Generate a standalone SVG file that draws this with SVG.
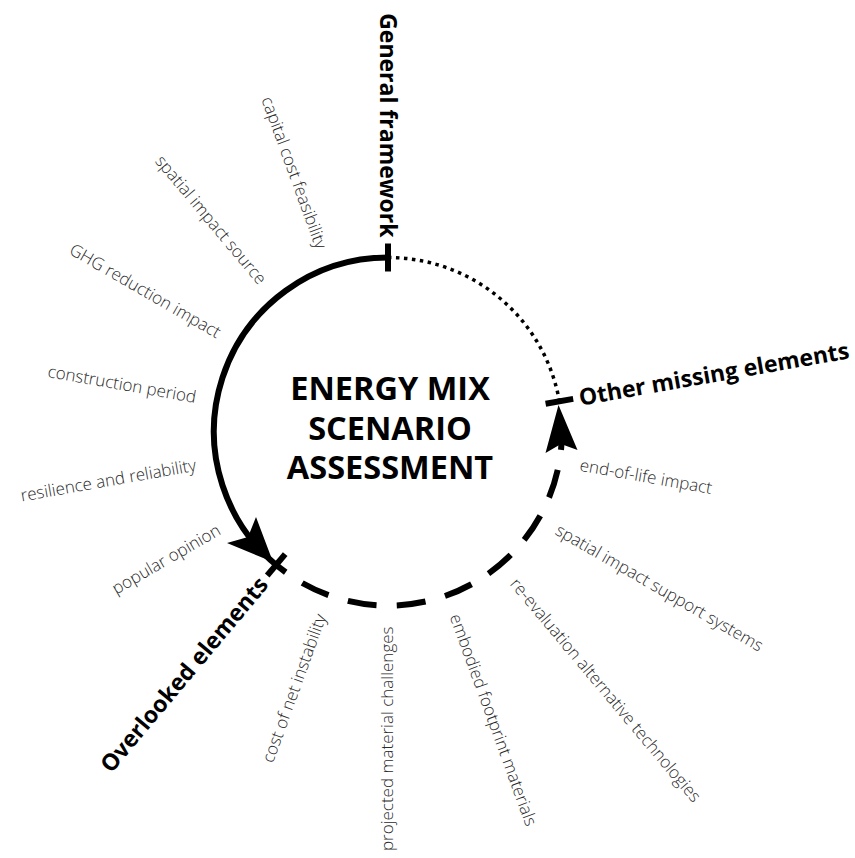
<svg xmlns="http://www.w3.org/2000/svg" width="855" height="858" viewBox="0 0 855 858">
<style>
.lbl{font-family:"Open Sans","Noto Sans",sans-serif;font-weight:300;font-size:17px;fill:#2a2a2a}
.bold{font-family:"Open Sans","Noto Sans",sans-serif;font-weight:700;font-size:23px;fill:#000}
.title{font-family:"Open Sans","Noto Sans",sans-serif;font-weight:700;font-size:32.5px;fill:#000;text-anchor:middle}
.arc{fill:none;stroke:#000;stroke-width:6}
.tick{stroke:#000;stroke-width:6;fill:none}
</style>
<rect width="855" height="858" fill="#fff"/>
<g id="connectors">
  <path class="arc" d="M388 257.5 A174 174 0 0 0 285.7 572.3"/>
  <path class="arc" d="M388 257.5 A174 174 0 0 1 559.4 401.3" style="stroke-width:3.5" stroke-dasharray="3.5 4.5"/>
  <path class="arc" d="M302.2 583.0 A174 174 0 0 0 561.3 416.3" stroke-dasharray="29 20.2"/>
  <polygon points="273,562 227,543 248,537 256,517" fill="#000"/>
  <polygon points="558.5,405 545.5,453 561,444 577.5,450" fill="#000"/>
  <line class="tick" x1="388" y1="243.5" x2="388" y2="271.5"/>
  <line class="tick" x1="545.6" y1="403.7" x2="573.2" y2="398.9"/>
  <line class="tick" x1="267.2" y1="575.5" x2="285.2" y2="554.1"/>
</g>
<g id="center">
  <text class="title" x="390" y="400">ENERGY MIX<tspan x="390" y="440">SCENARIO</tspan><tspan x="390" y="479">ASSESSMENT</tspan></text>
</g>
<g id="general-framework">
  <text class="bold" transform="rotate(90 388 431.5)" x="194" y="431.5" dy="0.35em" text-anchor="end">General framework</text>
</g>
<g id="other-missing-elements">
  <text class="bold" transform="rotate(-10 388 431.5)" x="582" y="431.5" dy="0.35em" text-anchor="start">Other missing elements</text>
</g>
<g id="overlooked-elements">
  <text class="bold" transform="rotate(-50 388 431.5)" x="194" y="431.5" dy="0.35em" text-anchor="end">Overlooked elements</text>
</g>
<g id="labels">
  <g id="capital-cost"><text class="lbl" transform="rotate(70 388 431.5)" x="193" y="431.5" dy="0.32em" text-anchor="end">capital cost feasibility</text></g>
  <g id="spatial-impact-source"><text class="lbl" transform="rotate(50 388 431.5)" x="193" y="431.5" dy="0.32em" text-anchor="end">spatial impact source</text></g>
  <g id="ghg"><text class="lbl" transform="rotate(30 388 431.5)" x="193" y="431.5" dy="0.32em" text-anchor="end">GHG reduction impact</text></g>
  <g id="construction"><text class="lbl" transform="rotate(10 388 431.5)" x="193" y="431.5" dy="0.32em" text-anchor="end">construction period</text></g>
  <g id="resilience"><text class="lbl" transform="rotate(-10 388 431.5)" x="193" y="431.5" dy="0.32em" text-anchor="end">resilience and reliability</text></g>
  <g id="popular"><text class="lbl" transform="rotate(-30 388 431.5)" x="193" y="431.5" dy="0.32em" text-anchor="end">popular opinion</text></g>
  <g id="net-instability"><text class="lbl" transform="rotate(-70 388 431.5)" x="193" y="431.5" dy="0.32em" text-anchor="end">cost of net instability</text></g>
  <g id="projected-material"><text class="lbl" transform="rotate(-90 388 431.5)" x="193" y="431.5" dy="0.32em" text-anchor="end">projected material challenges</text></g>
  <g id="embodied"><text class="lbl" transform="rotate(70 388 431.5)" x="583" y="431.5" dy="0.32em">embodied footprint materials</text></g>
  <g id="re-evaluation"><text class="lbl" transform="rotate(50 388 431.5)" x="583" y="431.5" dy="0.32em">re-evaluation alternative technologies</text></g>
  <g id="spatial-support"><text class="lbl" transform="rotate(30 388 431.5)" x="583" y="431.5" dy="0.32em">spatial impact support systems</text></g>
  <g id="end-of-life"><text class="lbl" transform="rotate(10 388 431.5)" x="583" y="431.5" dy="0.32em">end-of-life impact</text></g>
</g>
</svg>
